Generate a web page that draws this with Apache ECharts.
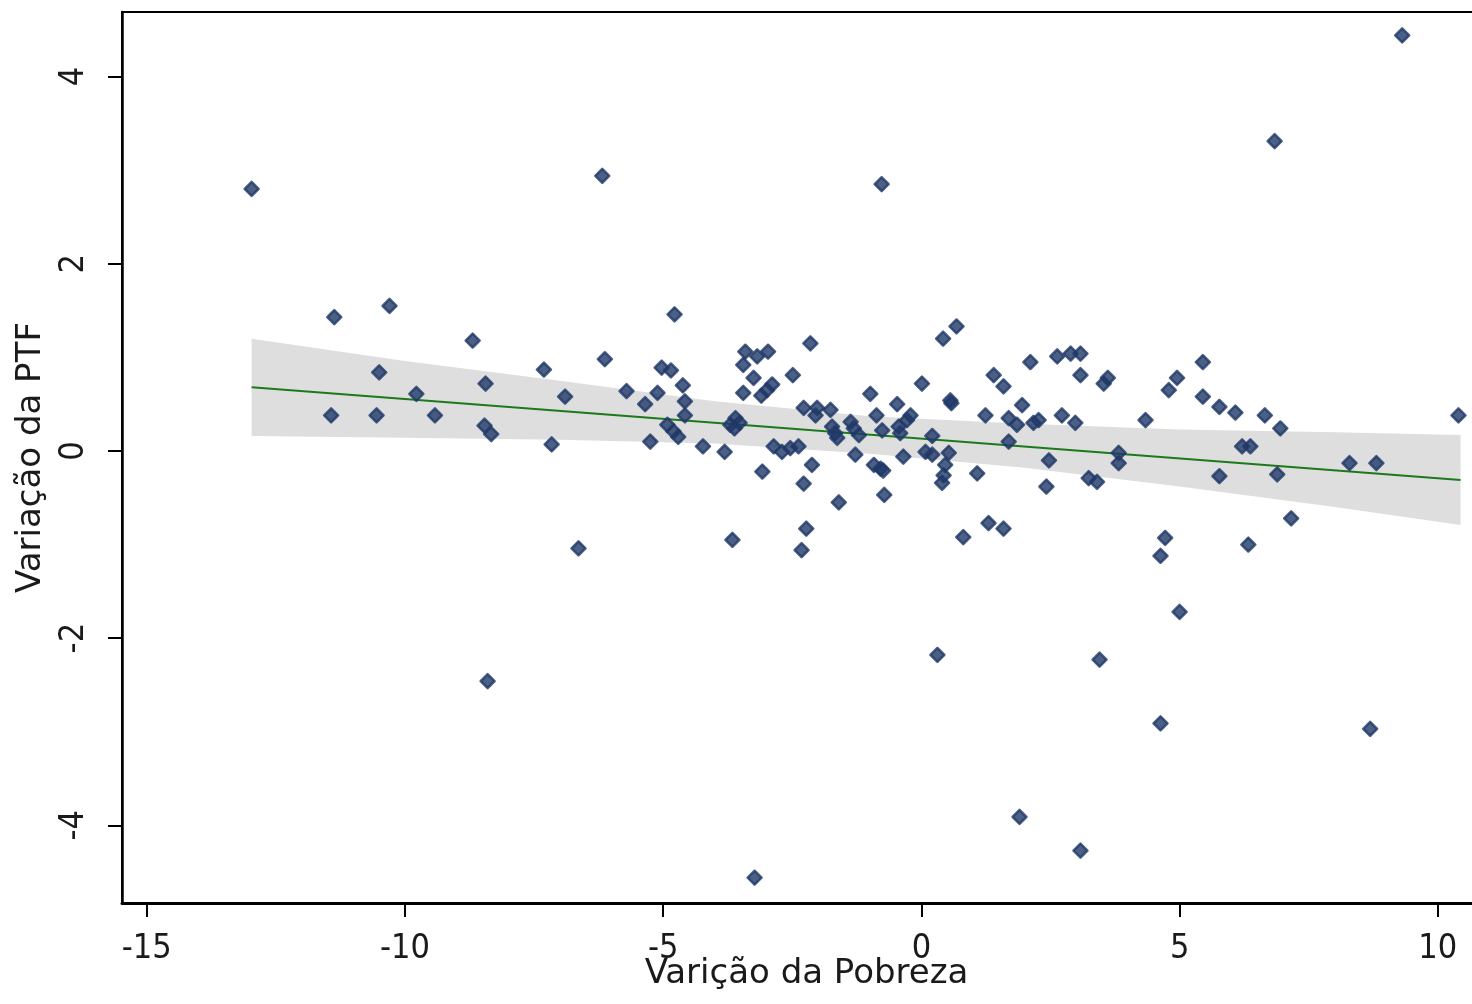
<!DOCTYPE html>
<html>
<head>
<meta charset="utf-8">
<title>Variação da PTF x Varição da Pobreza</title>
<script src="https://cdn.jsdelivr.net/npm/echarts@6/dist/echarts.min.js"></script>
<style>
  html, body { margin: 0; padding: 0; background: #fff; }
  #chart { width: 1472px; height: 1004px; }
</style>
</head>
<body>
<div id="chart"></div>
<script>
// pontos (variação da pobreza, variação da PTF)
const povertyChange = [
  -12.97, -6.18, -0.77, 9.31, 6.84, -8.40, 0.31, 3.45, 4.63, 8.69,
  1.90, 3.08, -3.23, 5.00, -6.64, -3.66, -2.32, -2.23, 0.81, 1.30,
  1.59, 4.63, 4.72, 6.33, 7.16, 10.40, -11.37, -10.30, -8.69, -7.31,
  -10.50, -8.44, -9.78, -6.90, -11.43, -10.55, -9.42, -8.46, -8.33, -7.16,
  -4.78, -6.13, -5.71, -5.11, -5.35, -5.03, -4.85, -4.62, -4.58, -4.58,
  -4.92, -4.80, -4.71, -5.25, -4.23, -3.81, -3.60, -3.70, -3.62, -3.52,
  -3.45, -3.25, -3.10, -2.99, -2.89, -3.45, -3.41, -3.18, -2.97, -2.49,
  -3.08, -2.86, -2.70, -2.54, -2.38, -2.15, -2.28, -2.02, -1.76, -2.05,
  -1.73, -1.67, -1.63, -1.37, -1.31, -1.21, -2.12, -2.28, -1.60, -1.28,
  -0.99, -0.87, -0.76, -0.92, -0.79, -0.74, -0.72, -0.47, -0.21, -0.28,
  -0.44, -0.41, -0.35, 0.01, 0.21, 0.08, 0.21, 0.53, 0.46, 0.43,
  0.40, 0.56, 0.58, 0.42, 0.68, 1.08, 1.24, 1.40, 1.59, 1.95,
  2.11, 1.69, 1.85, 1.69, 2.17, 2.27, 2.63, 2.89, 3.08, 3.08,
  3.53, 3.61, 2.72, 2.98, 2.47, 2.42, 3.82, 3.82, 3.24, 3.40,
  4.34, 4.79, 4.95, 5.45, 5.45, 5.77, 6.08, 6.65, 6.95, 6.21,
  6.37, 5.77, 6.89, 8.29, 8.81
];
const ptfChange = [
  2.80, 2.94, 2.85, 4.44, 3.31, -2.46, -2.18, -2.23, -2.91, -2.97,
  -3.91, -4.27, -4.56, -1.72, -1.04, -0.95, -1.06, -0.83, -0.92, -0.77,
  -0.83, -1.12, -0.93, -1.00, -0.72, 0.38, 1.43, 1.55, 1.18, 0.87,
  0.84, 0.72, 0.61, 0.58, 0.38, 0.38, 0.38, 0.27, 0.18, 0.07,
  1.46, 0.98, 0.64, 0.62, 0.50, 0.89, 0.86, 0.70, 0.53, 0.38,
  0.28, 0.21, 0.15, 0.10, 0.05, -0.01, 0.35, 0.28, 0.24, 0.30,
  0.62, 0.78, 0.59, 0.65, 0.71, 0.92, 1.06, 1.01, 1.06, 0.81,
  -0.22, 0.05, -0.01, 0.03, 0.05, 1.15, 0.46, 0.46, 0.44, 0.38,
  0.26, 0.19, 0.14, 0.31, 0.24, 0.17, -0.15, -0.35, -0.55, -0.04,
  0.61, 0.38, 0.22, -0.15, -0.19, -0.21, -0.47, 0.50, 0.38, 0.33,
  0.26, 0.19, -0.06, 0.72, 0.16, -0.01, -0.04, -0.02, -0.15, -0.26,
  -0.34, 0.54, 0.51, 1.20, 1.33, -0.24, 0.38, 0.81, 0.69, 0.49,
  0.95, 0.35, 0.28, 0.10, 0.30, 0.33, 1.01, 1.04, 1.04, 0.81,
  0.72, 0.78, 0.38, 0.30, -0.10, -0.38, -0.02, -0.13, -0.29, -0.33,
  0.33, 0.65, 0.78, 0.95, 0.58, 0.47, 0.41, 0.38, 0.24, 0.05,
  0.05, -0.27, -0.25, -0.13, -0.13
];

// reta ajustada e intervalo de confiança
const fitX = [-12.97, 10.44];
const fitY = [0.68, -0.31];
const bandX = [-12.97, -10, -7, -4, -1, 2, 5, 8, 10.44];
const bandHigh = [1.20, 0.96, 0.75, 0.53, 0.37, 0.29, 0.23, 0.20, 0.17];
const bandLow = [0.16, 0.14, 0.12, 0.08, -0.03, -0.18, -0.38, -0.60, -0.79];

const xTicks = [-15, -10, -5, 0, 5, 10];
const yTicks = [-4, -2, 0, 2, 4];

const points = povertyChange.map((x, i) => [x, ptfChange[i]]);
const fitLine = fitX.map((x, i) => [x, fitY[i]]);

const chart = echarts.init(document.getElementById('chart'), null, { renderer: 'canvas' });

const tickFont = {
  fontFamily: '"DejaVu Sans Condensed", "DejaVu Sans", sans-serif',
  fontSize: 34,
  color: '#1a1a1a'
};
const titleFont = {
  fontFamily: '"DejaVu Sans", sans-serif',
  fontSize: 34,
  color: '#1a1a1a'
};

chart.setOption({
  animation: false,
  backgroundColor: '#ffffff',
  grid: {
    left: 122,
    top: 12,
    right: -3,
    bottom: 101,
    show: true,
    borderColor: '#000',
    borderWidth: 2,
    outerBoundsMode: 'none'
  },
  xAxis: {
    type: 'value',
    min: -15.48,
    max: 10.72,
    name: 'Varição da Pobreza',
    nameLocation: 'middle',
    nameGap: 54,
    nameMoveOverlap: false,
    nameTextStyle: Object.assign({ padding: [0, 0, 0, 16] }, titleFont),
    axisLine: { onZero: false, lineStyle: { color: '#000', width: 3 } },
    axisTick: { show: true, length: 14, customValues: xTicks, lineStyle: { color: '#000', width: 2 } },
    axisLabel: Object.assign({ margin: 29, customValues: xTicks }, tickFont),
    splitLine: { show: false }
  },
  yAxis: {
    type: 'value',
    min: -4.83,
    max: 4.69,
    name: 'Variação da PTF',
    nameLocation: 'middle',
    nameGap: 74,
    nameMoveOverlap: false,
    nameTextStyle: titleFont,
    axisLine: { onZero: false, lineStyle: { color: '#000', width: 2.5 } },
    axisTick: { show: true, length: 14, customValues: yTicks, lineStyle: { color: '#000', width: 2 } },
    axisLabel: Object.assign({ margin: 31, rotate: 90, customValues: yTicks }, tickFont),
    splitLine: { show: false }
  },
  series: [
    {
      type: 'custom',
      name: 'IC 95%',
      z: 1,
      silent: true,
      data: [[bandX[0], bandHigh[0]]],
      renderItem: function (params, api) {
        const pts = [];
        for (let i = 0; i < bandX.length; i++) {
          pts.push(api.coord([bandX[i], bandHigh[i]]));
        }
        for (let i = bandX.length - 1; i >= 0; i--) {
          pts.push(api.coord([bandX[i], bandLow[i]]));
        }
        return {
          type: 'polygon',
          shape: { points: pts },
          style: { fill: '#dedede', stroke: null }
        };
      }
    },
    {
      type: 'line',
      name: 'Ajuste linear',
      z: 2,
      data: fitLine,
      showSymbol: false,
      silent: true,
      lineStyle: { color: '#1c7a1c', width: 2 }
    },
    {
      type: 'scatter',
      name: 'Municípios',
      z: 3,
      data: points,
      symbol: 'diamond',
      symbolSize: 14,
      itemStyle: {
        color: '#1f3868',
        borderColor: '#1f3868',
        borderWidth: 2.5,
        borderJoin: 'round'
      }
    }
  ]
});

window.addEventListener('resize', () => chart.resize());
</script>
</body>
</html>
